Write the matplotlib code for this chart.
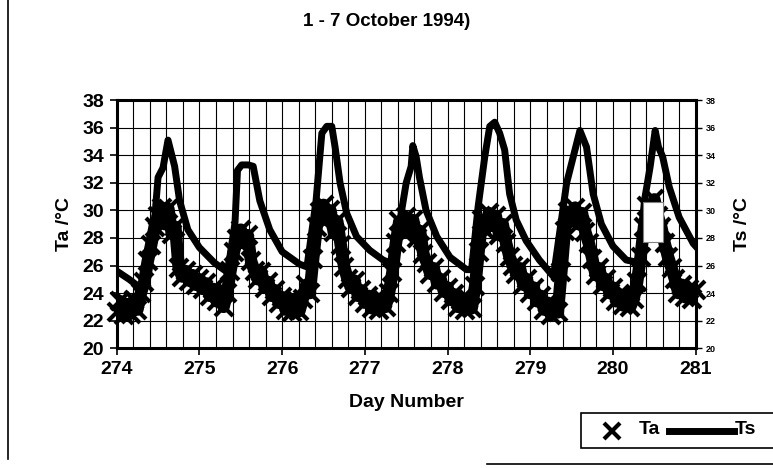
import numpy as np
import matplotlib
matplotlib.use("Agg")
from matplotlib import pyplot as plt
from matplotlib.ticker import MultipleLocator
from matplotlib.patches import Rectangle
from matplotlib.lines import Line2D

plt.rcParams["font.family"] = ["Liberation Sans", "DejaVu Sans"]

# hourly air temperature (Ta), day 274.0 .. 281.0
ta_274 = [22.6, 23.4, 22.4, 23.2, 22.5, 23.5, 22.8, 24.0, 24.8, 26.3, 27.5, 28.8,
          29.6, 30.2, 29.0, 30.1, 28.3, 28.8, 25.8, 25.2, 25.6, 24.9, 25.3, 24.6]
ta_275 = [25.0, 24.3, 24.7, 23.8, 24.3, 23.4, 23.9, 23.0, 24.0, 25.6, 27.0, 27.9,
          28.6, 27.6, 28.2, 26.3, 25.6, 25.0, 25.5, 24.4, 24.8, 23.8, 24.2, 23.3]
ta_276 = [23.7, 22.8, 23.4, 22.6, 23.5, 22.7, 23.6, 24.6, 24.0, 26.5, 28.8, 29.9,
          30.4, 29.3, 30.0, 28.4, 29.2, 27.5, 25.9, 25.0, 24.4, 24.9, 23.8, 24.2]
ta_277 = [23.3, 23.8, 22.9, 23.5, 22.8, 23.6, 23.0, 24.0, 25.5, 27.6, 29.2, 28.4,
          29.5, 28.6, 29.3, 28.0, 28.5, 26.8, 26.2, 25.4, 25.8, 24.7, 25.0, 24.1]
ta_278 = [24.4, 23.5, 23.9, 23.0, 23.5, 22.8, 23.6, 22.9, 24.5, 27.0, 29.3, 28.6,
          29.8, 28.9, 29.6, 28.2, 29.0, 27.6, 26.6, 26.0, 25.4, 25.8, 24.6, 25.0]
ta_279 = [24.0, 24.4, 23.4, 23.8, 22.8, 23.3, 22.4, 23.0, 22.6, 25.5, 28.5, 29.9,
          29.2, 30.2, 29.0, 29.8, 28.4, 27.6, 26.5, 25.3, 25.8, 24.6, 25.0, 24.0]
ta_280 = [24.4, 23.4, 23.9, 23.1, 23.7, 23.0, 23.6, 24.8, 26.6, 28.8, 30.3, 29.4,
          30.8, 29.6, 28.8, 27.6, 26.6, 25.8, 25.0, 24.0, 24.6, 23.7, 24.3, 23.6]
ta_281 = [24.2]
ta = ta_274 + ta_275 + ta_276 + ta_277 + ta_278 + ta_279 + ta_280 + ta_281
ta_day = 274 + np.arange(len(ta)) / 24

# surface temperature (Ts)
ts_day = [274.00, 274.15, 274.28, 274.36, 274.46, 274.50, 274.56, 274.62, 274.70, 274.76,
          274.86, 275.00, 275.18, 275.34, 275.43, 275.46, 275.51, 275.59, 275.65, 275.73,
          275.85, 276.00, 276.21, 276.30, 276.41, 276.48, 276.54, 276.60, 276.64, 276.70,
          276.78, 276.90, 277.06, 277.22, 277.34, 277.42, 277.50, 277.56, 277.58, 277.62,
          277.66, 277.74, 277.87, 278.03, 278.23, 278.29, 278.37, 278.45, 278.51, 278.57,
          278.63, 278.69, 278.75, 278.83, 278.95, 279.11, 279.28, 279.36, 279.44, 279.52,
          279.60, 279.68, 279.76, 279.86, 280.00, 280.16, 280.32, 280.38, 280.45, 280.51,
          280.55, 280.60, 280.68, 280.80, 280.97, 281.00]
ts = [25.6, 25.0, 24.4, 25.5, 29.5, 32.4, 33.1, 35.1, 33.2, 30.7,
      28.6, 27.3, 26.2, 25.5, 29.1, 32.9, 33.3, 33.3, 33.2, 30.7,
      28.6, 27.0, 26.1, 25.9, 30.7, 35.6, 36.1, 36.1, 34.6, 32.0,
      29.8, 28.1, 27.1, 26.4, 26.1, 29.1, 32.0, 33.2, 34.7, 33.9,
      32.4, 30.0, 28.1, 26.6, 25.7, 25.7, 30.3, 33.9, 36.1, 36.4,
      35.6, 34.4, 31.2, 29.3, 27.8, 26.4, 25.2, 28.6, 32.0, 33.9,
      35.8, 34.6, 31.2, 29.0, 27.4, 26.4, 26.2, 30.7, 33.2, 35.8,
      34.6, 33.9, 31.7, 29.5, 27.6, 27.4]

fig = plt.figure(figsize=(7.73, 4.68), dpi=100)
ax = fig.add_axes([0.151, 0.256, 0.749, 0.530])
ax.set_xlim(274, 281)
ax.set_ylim(20, 38)
ax.xaxis.set_major_locator(MultipleLocator(1))
ax.xaxis.set_minor_locator(MultipleLocator(0.2))
ax.yaxis.set_major_locator(MultipleLocator(2))
ax.grid(which="both", axis="x", color="black", lw=0.8)
ax.grid(which="major", axis="y", color="black", lw=0.8)
ax.tick_params(axis="x", which="minor", length=0)
ax.tick_params(axis="both", which="major", length=5, width=1.2, labelsize=14, pad=4)
for lab in ax.get_xticklabels() + ax.get_yticklabels():
    lab.set_fontweight("bold")
for sp in ax.spines.values():
    sp.set_linewidth(2.2)

# Ta: a dense band of crosses, as in the scan
ax.plot(ta_day, ta, "-", color="black", lw=9, solid_joinstyle="round",
        solid_capstyle="round", zorder=3)
ax.plot(ta_day, ta, "x", color="black", ms=13, mew=3, clip_on=False, zorder=3)
ax.plot(ts_day, ts, "-", color="black", lw=5, solid_joinstyle="round", zorder=4)
ax.add_patch(Rectangle((280.36, 27.7), 0.24, 2.9, facecolor="white",
                       edgecolor="0.5", lw=0.8, zorder=5))

ax.set_xlabel("Day Number", fontsize=14, fontweight="bold", labelpad=12)
ax.set_ylabel("Ta /\u00b0C", fontsize=14, fontweight="bold", labelpad=7)

ax2 = ax.twinx()
ax2.set_ylim(20, 38)
ax2.yaxis.set_major_locator(MultipleLocator(2))
ax2.tick_params(axis="y", length=4, width=1, labelsize=6.5, pad=3)
for lab in ax2.get_yticklabels():
    lab.set_fontweight("bold")
ax2.set_ylabel("Ts /\u00b0C", fontsize=14, fontweight="bold", labelpad=13)
for sp in ax2.spines.values():
    sp.set_visible(False)

fig.text(0.5, 0.955, "1 - 7 October 1994)", ha="center", va="center",
         fontsize=13.5, fontweight="bold")

# legend box, cut off at the right edge as in the scan
fig.add_artist(Rectangle((0.752, 0.043), 0.26, 0.075, transform=fig.transFigure,
                         facecolor="white", edgecolor="black", lw=1.2, clip_on=False))
fig.add_artist(Line2D([0.792], [0.078], marker="x", color="black", ms=11, mew=3,
                      transform=fig.transFigure))
fig.text(0.826, 0.083, "Ta", fontsize=14, fontweight="bold", va="center")
fig.add_artist(Line2D([0.866, 0.950], [0.078, 0.078], color="black", lw=5,
                      transform=fig.transFigure))
fig.text(0.950, 0.083, "Ts", fontsize=14, fontweight="bold", va="center")

# frame remnants of the scanned page
fig.add_artist(Line2D([0.010, 0.010], [0.02, 1.0], color="black", lw=1.2,
                      transform=fig.transFigure))
fig.add_artist(Line2D([0.63, 1.0], [0.008, 0.008], color="black", lw=1.2,
                      transform=fig.transFigure))

fig.savefig("out.png", dpi=100)
